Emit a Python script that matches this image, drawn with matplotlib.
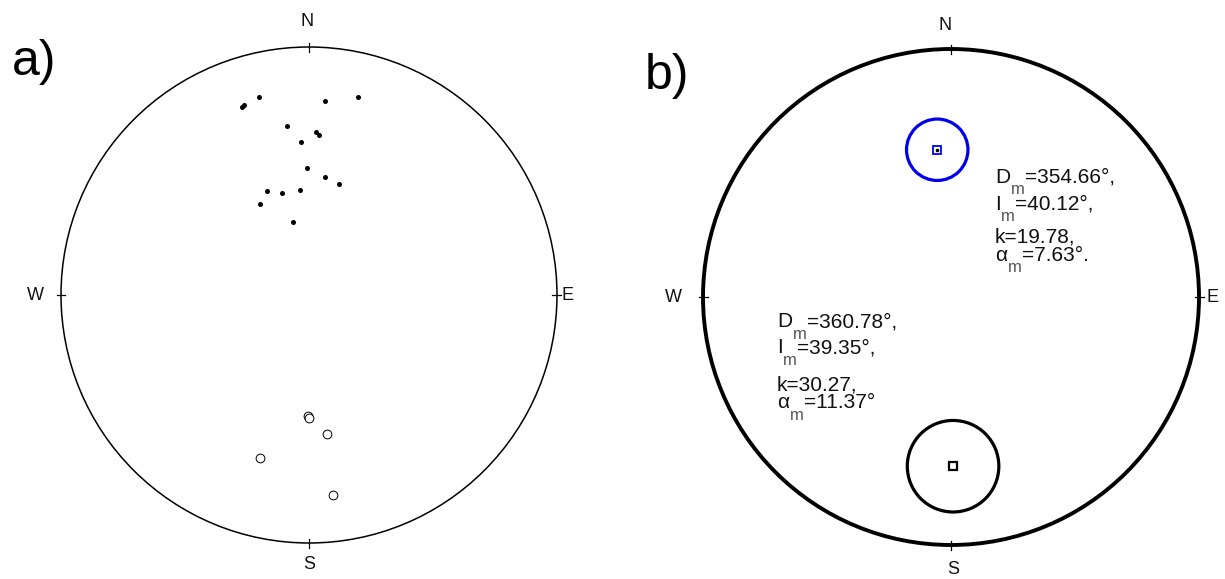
import numpy as np
import matplotlib
matplotlib.use('Agg')
import matplotlib.pyplot as plt
from matplotlib.patches import Circle

plt.rcParams['font.family'] = ['Liberation Sans', 'DejaVu Sans']

# panel a) individual directions (declination, inclination in degrees)
dec_down = [340.4, 341.0, 345.8, 4.7, 13.9, 352.6, 2.4, 3.5, 357.0,
            359.3, 7.6, 14.9, 338.1, 344.9, 355.0, 331.8, 347.8]
inc_down = [20.5, 20.1, 18.9, 22.6, 19.0, 31.7, 34.7, 35.6, 38.2,
            47.6, 50.2, 51.7, 52.7, 55.0, 55.0, 55.7, 65.3]
dec_up = [180.7, 179.8, 172.7, 196.7, 173.1]
inc_up = [-49.7, -48.8, -42.8, -31.9, -19.8]

# panel b) mean directions as plotted, and their statistics
mean_dec = [354.66, 179.3]
mean_inc = [40.12, -32.3]
alpha95 = [7.63, 11.37]
stat_D = ['354.66', '360.78']
stat_I = ['40.12', '39.35']
stat_k = ['19.78', '30.27']
stat_a = ['7.63', '11.37']
stat_end = ['.', '']

cardinals = ['N', 'E', 'S', 'W']

R_PX = 248.0
L = 1.25


def project(dec, inc):
    # Schmidt equal-area projection
    dec = np.radians(np.asarray(dec, float))
    inc = np.radians(np.abs(np.asarray(inc, float)))
    r = np.sqrt(2) * np.sin((np.pi / 2 - inc) / 2)
    return r * np.sin(dec), r * np.cos(dec)


def make_net(fig, cx, cy, lw, lab_off):
    side = 2 * L * R_PX
    ax = fig.add_axes([(cx - side / 2) / 1225, (579 - cy - side / 2) / 579,
                       side / 1225, side / 579])
    ax.set_xlim(-L, L)
    ax.set_ylim(-L, L)
    ax.axis('off')
    ax.add_patch(Circle((0, 0), 1.0, fill=False, ec='black', lw=lw))
    tk = 4.5 / R_PX
    dirs = [(0, 1), (1, 0), (0, -1), (-1, 0)]
    for (dx, dy), name, off in zip(dirs, cardinals, lab_off):
        ax.plot([dx * (1 - tk), dx * (1 + tk)], [dy * (1 - tk), dy * (1 + tk)],
                color='black', lw=0.9)
        ax.annotate(name, xy=(dx, dy), xytext=(off[0] * 0.72, off[1] * 0.72),
                    textcoords='offset points', ha='center', va='center',
                    fontsize=13, color='#111111')
    return ax


def stat_line(ax, x, y, main, sub, rest):
    t1 = ax.text(x, y, main, fontsize=15, color='#111111', va='baseline', ha='left')
    if sub:
        t2 = ax.annotate(sub, xy=(1.0, 0.0), xycoords=t1, xytext=(0.3, 3.2),
                         textcoords='offset points', fontsize=12,
                         color='#555555', va='top', ha='left')
        ax.annotate(rest, xy=(1.0, 0.0), xycoords=(t2, t1), xytext=(0.3, 0),
                    textcoords='offset points', fontsize=15,
                    color='#111111', va='bottom', ha='left')


fig = plt.figure(figsize=(12.25, 5.79), dpi=100)

# a) individual sample directions
ax1 = make_net(fig, 309, 295, 1.1, [(-1.5, 25.5), (10.5, 0), (0, -21.5), (-25.5, 0)])
xd, yd = project(dec_down, inc_down)
ax1.plot(xd, yd, 'o', color='black', ms=3.6, mew=0)
xu, yu = project(dec_up, inc_up)
ax1.plot(xu, yu, 'o', mfc='white', mec='black', ms=6.3, mew=0.7)
fig.text(12 / 1225, 1 - 75 / 579, 'a)', fontsize=36, ha='left', va='baseline')

# b) mean directions with alpha95 cones
ax2 = make_net(fig, 951, 297, 2.8, [(-6, 23), (14, 0), (2, -25), (-30, 0)])
mx, my = project(mean_dec, mean_inc)
cone_r = np.radians(alpha95) * 0.93
ax2.add_patch(Circle((mx[0], my[0]), cone_r[0], fill=False, ec='#0000ee', lw=2.3))
ax2.add_patch(Circle((mx[1], my[1]), cone_r[1], fill=False, ec='black', lw=2.3))
ax2.plot(mx[0], my[0], 's', mfc='white', mec='#0000ee', ms=6, mew=1.3)
ax2.plot(mx[0], my[0], 'o', color='black', ms=2.6, mew=0)
ax2.plot(mx[1], my[1], 's', mfc='white', mec='black', ms=5.8, mew=1.6)
fig.text(645 / 1225, 1 - 89 / 579, 'b)', fontsize=36, ha='left', va='baseline')

# statistics text blocks: anchor and line drops (pixels)
blocks = [(0.177, 0.460), (-0.702, -0.121)]
drops = [(27, 60, 78), (26, 63, 81)]
for i, (bx, by) in enumerate(blocks):
    d1, d2, d3 = drops[i]
    stat_line(ax2, bx, by, 'D', 'm', '=' + stat_D[i] + '°,')
    stat_line(ax2, bx, by - d1 / R_PX, 'I', 'm', '=' + stat_I[i] + '°,')
    stat_line(ax2, bx, by - d2 / R_PX, 'k=' + stat_k[i] + ',', None, None)
    stat_line(ax2, bx, by - d3 / R_PX, 'α', 'm', '=' + stat_a[i] + '°' + stat_end[i])

fig.savefig('out.png', dpi=100, facecolor='white')
